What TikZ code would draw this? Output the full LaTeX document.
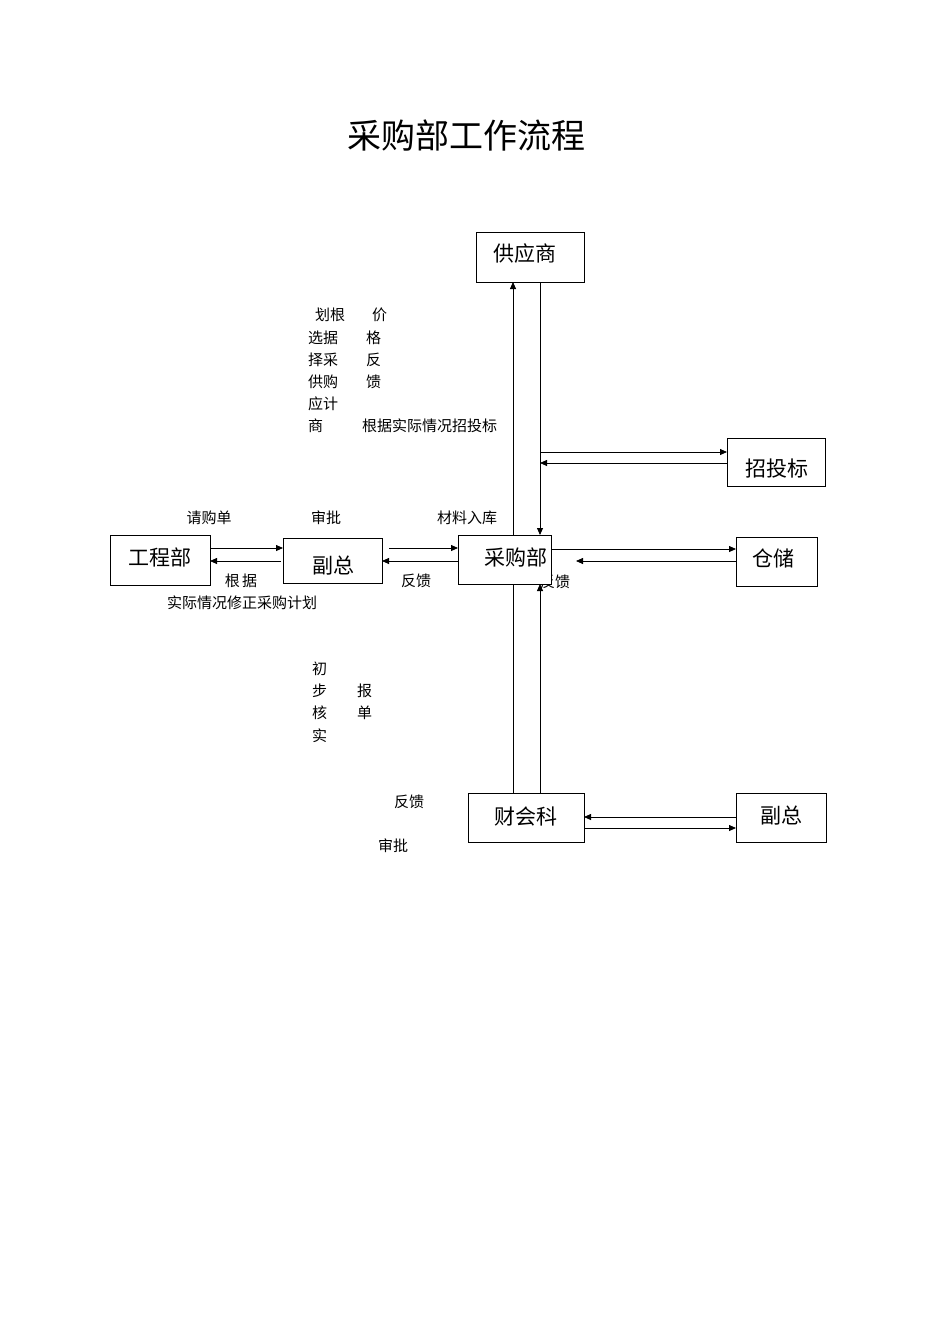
\documentclass[tikz,border=0pt]{standalone}
\usepackage{fontspec}
\setmainfont{Noto Sans CJK SC}
\usetikzlibrary{arrows.meta}
\begin{document}
\begin{tikzpicture}[x=1pt,y=-1pt,
  box/.style={draw,line width=0.9pt,fill=white,inner sep=0pt},
  lab/.style={font=\fontsize{15}{15}\selectfont,inner sep=0pt},
  bl/.style={font=\fontsize{21}{21}\selectfont,inner sep=0pt},
  ar/.style={-{Triangle[length=7pt,width=6pt]},line width=0.8pt},
  ln/.style={line width=0.8pt}]
\useasboundingbox (0,0) rectangle (950,1317);
\node[font=\fontsize{34}{34}\selectfont] (title) at (466,136) {采购部工作流程};
% hidden label behind box
\node[lab] (hid) at (555,582) {反馈};
% boxes
\node[box,minimum width=108,minimum height=50] (sup) at (530,257) {};
\node[bl] at (525,254) {供应商};
\node[box,minimum width=98,minimum height=48] (bid) at (776,462) {};
\node[bl] at (777,469) {招投标};
\node[box,minimum width=100,minimum height=50] (eng) at (160,560) {};
\node[bl] at (160,557) {工程部};
\node[box,minimum width=99,minimum height=45] (vp1) at (332.5,560.5) {};
\node[bl] at (333,566) {副总};
\node[box,minimum width=93,minimum height=49] (pur) at (504.5,559.5) {};
\node[bl] at (516,557) {采购部};
\node[box,minimum width=81,minimum height=49] (sto) at (776.5,561.5) {};
\node[bl] at (773,558) {仓储};
\node[box,minimum width=116,minimum height=49] (fin) at (526,817.5) {};
\node[bl] at (526,816) {财会科};
\node[box,minimum width=90,minimum height=49] (vp2) at (781,817.5) {};
\node[bl] at (781,816) {副总};
% verticals
\coordinate (a1) at (513,793); \coordinate (a2) at (513,282);
\draw[ln] (513,793) -- (513,584);
\draw[ar] (513,535) -- (513,282);
\draw[ar] (540,282) -- (540,535);
\draw[ar] (540,793) -- (540,584);
% bid
\draw[ar] (540,452) -- (727,452);
\draw[ar] (727,463) -- (540,463);
% eng - vp1
\draw[ar] (210,548) -- (283,548);
\draw[ar] (281,561) -- (210,561);
\draw[ar] (389,548) -- (458,548);
\draw[ar] (458,561) -- (382,561);
% pur - storage
\draw[ar] (551,549) -- (736,549);
\draw[ar] (736,561) -- (576,561);
% fin - vp2
\draw[ar] (736,817) -- (584,817);
\draw[ar] (584,828) -- (736,828);
% labels
\node[lab] at (209,518) {请购单};
\node[lab] at (326,518) {审批};
\node[lab] at (467,518) {材料入库};
\node[lab] at (241,581) {根\,据};
\node[lab] at (242,603) {实际情况修正采购计划};
\node[lab] at (416,581) {反馈};
\node[lab,anchor=west] at (315,315) {划根};
\node[lab,anchor=west] at (308,338) {选据};
\node[lab,anchor=west] at (308,360) {择采};
\node[lab,anchor=west] at (308,382) {供购};
\node[lab,anchor=west] at (308,404) {应计};
\node[lab,anchor=west] at (308,426) {商};
\node[lab,anchor=west] at (372,315) {价};
\node[lab,anchor=west] at (366,338) {格};
\node[lab,anchor=west] at (366,360) {反};
\node[lab,anchor=west] at (366,382) {馈};
\node[lab,anchor=west] at (362,426) {根据实际情况招投标};
\node[lab,anchor=west] at (312,669) {初};
\node[lab,anchor=west] at (312,691) {步};
\node[lab,anchor=west] at (312,713) {核};
\node[lab,anchor=west] at (312,736) {实};
\node[lab,anchor=west] at (357,691) {报};
\node[lab,anchor=west] at (357,713) {单};
\node[lab] at (409,802) {反馈};
\node[lab] at (393,846) {审批};
\end{tikzpicture}
\end{document}
